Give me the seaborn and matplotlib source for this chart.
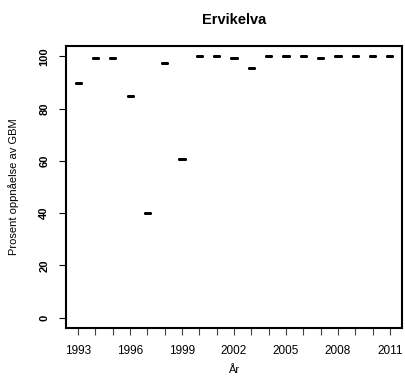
import matplotlib
matplotlib.use("Agg")
import matplotlib.pyplot as plt
import seaborn as sns
import pandas as pd

# Data
years = list(range(1993, 2012))
values = [90, 99.5, 99.5, 85, 40, 97.3, 60.7, 100, 100, 99.5,
          95.5, 100, 100, 100, 99.5, 100, 100, 100, 100]
shown_labels = ["1993", "1996", "1999", "2002", "2005", "2008", "2011"]
title = "Ervikelva"

df = pd.DataFrame({"year": [str(y) for y in years], "value": values})

sns.set_style("ticks")
plt.rcParams["font.family"] = ["Liberation Sans", "DejaVu Sans"]
plt.rcParams["text.color"] = "black"
plt.rcParams["axes.labelcolor"] = "black"
plt.rcParams["xtick.labelcolor"] = "black"
plt.rcParams["ytick.labelcolor"] = "black"

fig = plt.figure(figsize=(4.06, 3.87), dpi=100)
ax = fig.add_axes([0.1626, 0.1525, 0.8276, 0.7287])

# One observation per year -> boxplot collapses to a single median bar
sns.boxplot(data=df, x="year", y="value", order=[str(y) for y in years],
            width=0.3, fill=False, color="black", linewidth=2.0,
            whis=0, showfliers=False, ax=ax)

ax.set_xlim(-0.7, len(years) - 0.3)
ax.set_ylim(-4, 104)

# Ticks at every year, labels every third year
ax.set_xticks(range(len(years)))
ax.set_xticklabels([str(y) if str(y) in shown_labels else "" for y in years])
ax.set_yticks([0, 20, 40, 60, 80, 100])
ax.set_yticklabels(["0", "20", "40", "60", "80", "100"], rotation=90,
                   va="center", fontweight="bold")

ax.tick_params(axis="x", length=5, width=0.8, pad=7, labelsize=8.5,
               color="#444444", labelcolor="black")
ax.tick_params(axis="y", length=5, width=0.8, pad=7, labelsize=8,
               color="black", labelcolor="black")

for spine in ax.spines.values():
    spine.set_visible(True)
    spine.set_linewidth(1.5)
    spine.set_color("black")

ax.set_title(title, fontsize=10.5, fontweight="bold", pad=16, color="black")
ax.set_xlabel("År", fontsize=8, color="black")
ax.set_ylabel("Prosent oppnåelse av GBM", fontsize=8, color="black")
ax.xaxis.set_label_coords(0.5, -0.13)
ax.yaxis.set_label_coords(-0.14, 0.5)

fig.savefig("out.png", dpi=100)
plt.close(fig)
